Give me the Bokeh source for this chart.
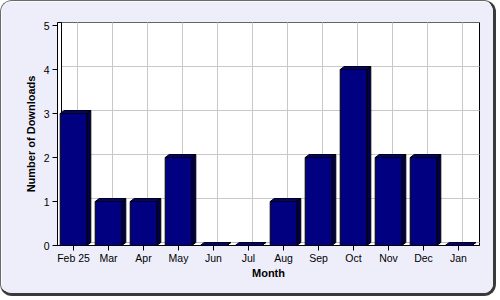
from bokeh.plotting import figure
from bokeh.models import FixedTicker, Range1d, ColumnDataSource
from bokeh.embed import file_html
from bokeh.resources import INLINE

months = ["Feb 25", "Mar", "Apr", "May", "Jun", "Jul", "Aug", "Sep", "Oct", "Nov", "Dec", "Jan"]
downloads = [3, 1, 1, 2, 0, 0, 1, 2, 4, 2, 2, 0]
y_ticks = [0, 1, 2, 3, 4, 5]

# canvas is offset by the 1px left/top CSS border
W, H = 496, 296
FL, FR, FT, FB = 56, 478, 21, 244       # frame edges (canvas px)
X0, XS = 72, 35                         # px of first category, px per category
YS = 44                                 # px per unit
DX, DY = 4, 3                           # 3D depth (px)

xs0 = (FL - X0) / XS
xs1 = (FR - X0) / XS
ys1 = (FB - FT) / YS
ddx = DX / XS
ddy = DY / YS

p = figure(width=W, height=H, output_backend="svg", toolbar_location=None,
           x_range=Range1d(xs0, xs1), y_range=Range1d(0, ys1),
           min_border_left=FL, min_border_right=W - FR,
           min_border_top=FT, min_border_bottom=H - FB)
p.extra_x_ranges = {"bx": Range1d(xs0 - ddx, xs1 - ddx)}
p.extra_y_ranges = {"by": Range1d(-ddy, ys1 - ddy)}

p.styles = {
    "border-left": "1px solid #6a6a6a",
    "border-top": "1px solid #6a6a6a",
    "border-right": "3px solid #3a3a3a",
    "border-bottom": "3px solid #3a3a3a",
    "border-radius": "12px",
    "overflow": "hidden",
}

p.border_fill_color = "#eeeefb"
p.background_fill_color = "white"
p.outline_line_color = "black"
p.outline_line_width = 1
p.xgrid.visible = False
p.ygrid.visible = False

# back-wall gridlines
n = len(months)
p.segment(x0=list(range(n)), x1=list(range(n)), y0=[0] * n, y1=[ys1] * n,
          x_range_name="bx", y_range_name="by", line_color="#c8c8c8",
          line_width=1, level="underlay")
gy = y_ticks[1:]
p.segment(x0=[xs0] * len(gy), x1=[xs1] * len(gy), y0=gy, y1=gy,
          x_range_name="bx", y_range_name="by", line_color="#c8c8c8",
          line_width=1, level="underlay")
# back-left wall edge and back floor edge
p.segment(x0=[xs0], x1=[xs0], y0=[0], y1=[ys1], x_range_name="bx",
          y_range_name="by", line_color="black", line_width=1, level="underlay")
p.segment(x0=[xs0], x1=[xs1], y0=[0], y1=[0], x_range_name="bx",
          y_range_name="by", line_color="#bbbbbb", line_width=1, level="underlay")

# 3D bars
bw = 0.76
xi = list(range(n))
side_xs, side_ys, top_xs, top_ys = [], [], [], []
for i, v in zip(xi, downloads):
    l, r = i - bw / 2, i + bw / 2
    side_xs.append([r, r + ddx, r + ddx, r])
    side_ys.append([0, ddy, v + ddy, v])
    top_xs.append([l, r, r + ddx, l + ddx])
    top_ys.append([v, v, v + ddy, v + ddy])

p.patches(side_xs, side_ys, fill_color="#00004a", line_color="black", line_width=1)
p.patches(top_xs, top_ys, fill_color="#000080", line_color="black", line_width=1)
src = ColumnDataSource(dict(x=xi, top=downloads))
p.vbar(x="x", top="top", bottom=0, width=bw, source=src,
       fill_color="#000080", line_color="black", line_width=1)

# axes
p.xaxis.ticker = FixedTicker(ticks=xi)
p.xaxis.major_label_overrides = {i: m for i, m in enumerate(months)}
p.yaxis.ticker = FixedTicker(ticks=y_ticks)
for ax in (p.xaxis[0], p.yaxis[0]):
    ax.axis_line_color = "black"
    ax.major_tick_line_color = "black"
    ax.major_tick_in = 0
    ax.major_tick_out = 5
    ax.minor_tick_line_color = None
    ax.major_label_text_font = "Liberation Sans"
    ax.major_label_text_font_size = "10.5px"
    ax.major_label_text_color = "black"
    ax.axis_label_text_font = "Liberation Sans"
    ax.axis_label_text_font_size = "11px"
    ax.axis_label_text_font_style = "bold"
    ax.axis_label_text_color = "black"
p.xaxis.axis_label = "Month"
p.yaxis.axis_label = "Number of Downloads"
p.xaxis.major_label_standoff = 1
p.yaxis.major_label_standoff = 3
p.xaxis.axis_label_standoff = 0
p.yaxis.axis_label_standoff = 4

open("out.html", "w").write(file_html(p, INLINE))
